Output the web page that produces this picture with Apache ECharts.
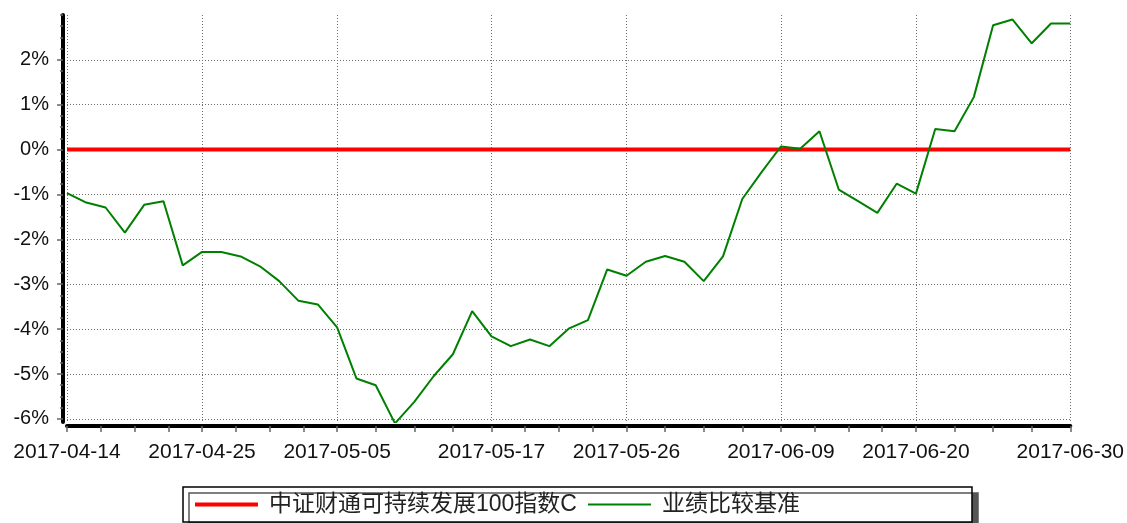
<!DOCTYPE html>
<html>
<head>
<meta charset="utf-8">
<script src="https://cdn.jsdelivr.net/npm/echarts@6/dist/echarts.min.js"></script>
<style>
    html, body { margin: 0; padding: 0; background: #fff; }
    #main { width: 1127px; height: 523px; }
</style>
</head>
<body>
<div id="main"></div>
<script>
// trading days shown on the x axis
const dates = [
    '2017-04-14', '2017-04-17', '2017-04-18', '2017-04-19', '2017-04-20', '2017-04-21',
    '2017-04-24', '2017-04-25', '2017-04-26', '2017-04-27', '2017-04-28',
    '2017-05-02', '2017-05-03', '2017-05-04', '2017-05-05',
    '2017-05-08', '2017-05-09', '2017-05-10', '2017-05-11', '2017-05-12',
    '2017-05-15', '2017-05-16', '2017-05-17', '2017-05-18', '2017-05-19',
    '2017-05-22', '2017-05-23', '2017-05-24', '2017-05-25', '2017-05-26',
    '2017-05-31', '2017-06-01', '2017-06-02',
    '2017-06-05', '2017-06-06', '2017-06-07', '2017-06-08', '2017-06-09',
    '2017-06-12', '2017-06-13', '2017-06-14', '2017-06-15', '2017-06-16',
    '2017-06-19', '2017-06-20', '2017-06-21', '2017-06-22', '2017-06-23',
    '2017-06-26', '2017-06-27', '2017-06-28', '2017-06-29', '2017-06-30'
];

const labelDates = ['2017-04-14', '2017-04-25', '2017-05-05', '2017-05-17',
    '2017-05-26', '2017-06-09', '2017-06-20', '2017-06-30'];

const yTicks = [-6, -5, -4, -3, -2, -1, 0, 1, 2];

// 中证财通可持续发展100指数C (%)
const fundValues = dates.map(() => 0);

// 业绩比较基准 (%)
const benchValues = [
    -0.97, -1.18, -1.29, -1.85, -1.23, -1.15, -2.58, -2.28, -2.28, -2.38,
    -2.60, -2.93, -3.37, -3.45, -3.96, -5.10, -5.25, -6.10, -5.62, -5.05,
    -4.56, -3.60, -4.16, -4.38, -4.23, -4.38, -3.99, -3.80, -2.67, -2.81,
    -2.50, -2.37, -2.50, -2.93, -2.38, -1.10, -0.50, 0.07, 0.02, 0.41,
    -0.89, -1.15, -1.41, -0.76, -0.98, 0.46, 0.41, 1.17, 2.77, 2.90,
    2.37, 2.81, 2.81
];

const labelIdx = labelDates.map(d => dates.indexOf(d));
const minorX = [];
for (let i = 0; i < labelIdx.length - 1; i++) {
    const a = labelIdx[i], b = labelIdx[i + 1];
    for (let k = 1; k < 4; k++) minorX.push(a + (b - a) * k / 4);
}
const minorY = [];
for (let v = -6; v <= 3; v += 0.25) minorY.push(v);

const font = 'Liberation Sans, Arial, "Noto Sans CJK SC", sans-serif';
const chart = echarts.init(document.getElementById('main'));

const noSymbol = { color: 'rgba(0,0,0,0)', borderWidth: 0 };

const option = {
    animation: false,
    grid: {
        left: 67,
        right: 56,
        top: 15,
        bottom: 101
    },
    legend: {
        left: 183,
        top: 487,
        padding: [6, 172, 6, 10],
        itemWidth: 63,
        itemHeight: 14,
        itemGap: 10,
        backgroundColor: '#fff',
        borderColor: '#000',
        borderWidth: 1.5,
        borderRadius: 0,
        shadowColor: '#555',
        shadowBlur: 0,
        shadowOffsetX: 6,
        shadowOffsetY: 6,
        textStyle: {
            fontFamily: font,
            fontSize: 23,
            color: '#222',
            padding: [0, 0, 0, 6]
        },
        data: [{
            name: '中证财通可持续发展100指数C',
            lineStyle: { width: 4 },
            itemStyle: noSymbol
        }, {
            name: '业绩比较基准',
            lineStyle: { width: 2 },
            itemStyle: noSymbol
        }]
    },
    xAxis: [{
        type: 'value',
        min: 0,
        max: dates.length - 1,
        offset: 4,
        axisLine: {
            onZero: false,
            lineStyle: { color: '#000', width: 4 }
        },
        axisTick: {
            customValues: labelIdx,
            length: 6,
            lineStyle: { color: '#666', width: 1.5 }
        },
        axisLabel: {
            customValues: labelIdx,
            formatter: v => dates[Math.round(v)],
            fontFamily: font,
            fontSize: 21,
            color: '#111',
            margin: 16
        },
        splitLine: {
            show: true,
            lineStyle: { color: '#6e6e6e', width: 1, type: [1, 2] }
        }
    }, {
        type: 'value',
        min: 0,
        max: dates.length - 1,
        position: 'bottom',
        offset: 4,
        axisLine: { show: false, onZero: false },
        axisTick: {
            customValues: minorX,
            length: 6,
            lineStyle: { color: '#666', width: 1.5 }
        },
        axisLabel: { show: false },
        splitLine: { show: false }
    }],
    yAxis: [{
        type: 'value',
        min: -6.07,
        max: 3,
        offset: 4,
        axisLine: {
            show: true,
            onZero: false,
            lineStyle: { color: '#000', width: 4 }
        },
        axisTick: {
            show: true,
            customValues: yTicks,
            length: 6,
            lineStyle: { color: '#666', width: 1.5 }
        },
        axisLabel: {
            customValues: yTicks,
            formatter: v => v + '%',
            fontFamily: font,
            fontSize: 20,
            color: '#111',
            margin: 14
        },
        splitLine: {
            show: true,
            lineStyle: { color: '#6e6e6e', width: 1, type: [1, 2] }
        }
    }, {
        type: 'value',
        min: -6.07,
        max: 3,
        position: 'left',
        offset: 4,
        axisLine: { show: false, onZero: false },
        axisTick: {
            show: true,
            customValues: minorY,
            length: 3,
            lineStyle: { color: '#666', width: 1.5 }
        },
        axisLabel: { show: false },
        splitLine: { show: false }
    }],
    series: [{
        name: '中证财通可持续发展100指数C',
        type: 'line',
        symbol: 'none',
        lineStyle: { color: '#ff0000', width: 4 },
        itemStyle: { color: '#ff0000' },
        data: fundValues.map((v, i) => [i, v])
    }, {
        name: '业绩比较基准',
        type: 'line',
        symbol: 'none',
        lineStyle: { color: '#008000', width: 2 },
        itemStyle: { color: '#008000' },
        data: benchValues.map((v, i) => [i, v])
    }]
};

chart.setOption(option);
</script>
</body>
</html>
